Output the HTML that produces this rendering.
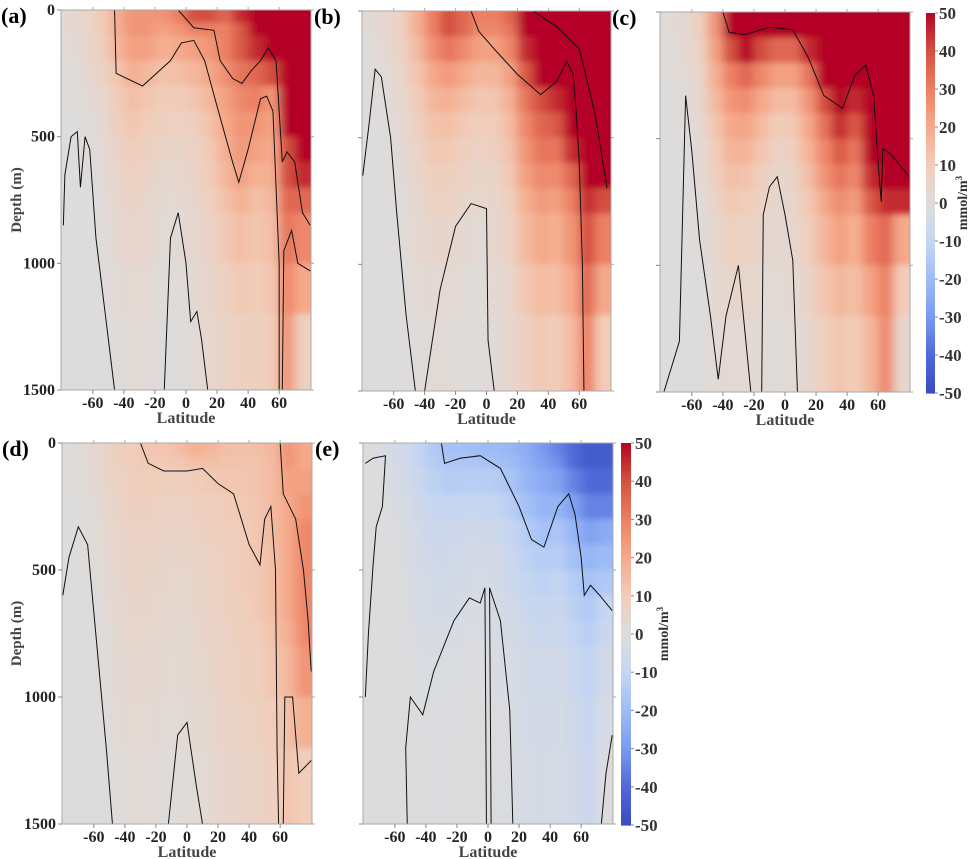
<!DOCTYPE html>
<html><head><meta charset="utf-8">
<style>
html,body{margin:0;padding:0;background:#fff;}
svg{display:block;font-family:"Liberation Serif",serif;}
svg text{font-family:"Liberation Serif",serif;}
</style></head>
<body>
<svg id="fig" width="971" height="859" viewBox="0 0 971 859" xmlns="http://www.w3.org/2000/svg" font-family="Liberation Serif, serif">
<defs>
<filter id="soft" x="-10%" y="-10%" width="120%" height="120%"><feGaussianBlur stdDeviation="5 3"/></filter>
</defs>
</svg>
<script>
const latCenters=[-75,-65,-55,-45,-35,-25,-15,-5,5,15,25,35,45,55,65,75];
const depthEdges=[0,50,100,200,300,400,500,600,700,800,1000,1200,1500];
const latTicks=[-60,-40,-20,0,20,40,60];
const depthTicks=[0,500,1000,1500];
const cbTicks=[50,40,30,20,10,0,-10,-20,-30,-40,-50];

const valuesA=[
[3,5,10,18,25,25,25,30,40,40,35,45,55,60,60,60],
[3,5,10,18,25,25,22,25,30,30,30,38,50,55,60,60],
[2,4,8,16,22,22,18,20,22,25,30,38,45,50,60,60],
[1,3,6,12,18,16,13,14,16,20,26,32,35,40,60,60],
[1,2,4,10,14,12,10,10,12,16,22,28,30,25,55,60],
[0,1,3,8,12,10,8,7,9,13,20,25,25,22,50,60],
[0,1,2,6,10,8,6,5,7,11,18,24,22,20,40,55],
[0,0,2,5,8,6,4,4,6,10,16,22,18,18,40,45],
[0,0,1,4,6,5,3,3,5,8,13,18,14,16,35,35],
[0,0,1,3,5,4,2,2,4,6,11,14,12,14,32,28],
[0,0,0,2,3,3,1,1,3,5,8,11,10,12,28,20],
[0,0,0,1,2,2,0,0,2,4,6,8,8,10,25,8]];
const valuesB=[
[2,4,8,18,30,40,35,30,30,35,50,60,60,60,60,60],
[2,4,8,18,30,40,35,28,28,32,50,60,60,60,60,60],
[1,3,7,15,26,32,28,22,22,28,45,55,60,60,60,60],
[1,2,5,12,20,24,20,16,16,22,38,50,55,60,60,60],
[0,1,4,10,16,18,15,12,12,18,32,40,45,60,60,60],
[0,1,3,8,13,14,11,9,10,15,28,35,38,55,60,60],
[0,0,2,6,11,11,9,7,8,13,25,32,32,45,60,60],
[0,0,2,5,9,9,7,5,6,11,22,28,27,35,55,60],
[0,0,1,4,7,7,5,4,5,9,18,24,22,30,45,40],
[0,0,1,3,5,5,3,2,4,7,15,20,18,25,40,30],
[0,0,0,2,3,3,2,1,3,5,11,15,14,20,35,20],
[0,0,0,1,2,2,1,0,2,4,8,11,10,15,30,10]];
const valuesC=[
[2,3,8,25,60,60,60,55,55,60,60,60,60,60,60,60],
[2,3,8,25,55,60,55,50,50,60,60,60,60,60,60,60],
[1,3,7,22,40,50,40,35,35,45,60,60,60,60,60,60],
[1,2,5,18,30,35,28,22,22,32,50,60,55,60,60,60],
[0,1,4,15,25,27,20,15,15,25,40,55,45,60,60,60],
[0,1,3,12,20,21,15,10,11,20,33,45,38,60,60,60],
[0,0,2,10,17,17,12,7,8,17,28,38,32,55,60,60],
[0,0,2,8,14,13,9,5,6,14,25,32,28,45,60,60],
[0,0,1,6,11,10,7,4,5,11,20,27,23,38,45,45],
[0,0,1,4,8,7,5,3,4,9,16,22,18,30,35,20],
[0,0,0,3,5,5,3,2,3,6,12,16,14,22,30,10],
[0,0,0,2,3,3,2,1,2,4,9,12,10,16,28,4]];
const valuesD=[
[1,2,5,8,10,12,12,14,18,16,14,14,14,16,25,20],
[1,2,5,8,10,11,11,12,14,14,13,13,13,15,25,20],
[1,2,4,7,9,10,9,9,10,11,12,12,13,15,22,22],
[0,1,3,6,8,8,7,7,8,9,10,11,12,15,20,25],
[0,1,3,5,7,7,6,6,7,8,9,10,12,15,20,28],
[0,1,2,5,6,6,5,5,6,7,9,10,12,14,20,28],
[0,0,2,4,6,5,5,4,5,7,8,10,11,14,20,28],
[0,0,1,4,5,5,4,4,5,6,8,9,11,14,20,28],
[0,0,1,3,5,4,4,3,4,6,7,9,10,13,18,28],
[0,0,1,3,4,4,3,3,4,5,7,8,9,12,16,25],
[0,0,0,2,3,3,2,2,3,4,6,7,8,10,14,18],
[0,0,0,1,2,2,1,1,2,3,5,6,6,8,12,10]];
const valuesE=[
[0,-3,-5,-10,-15,-18,-18,-20,-20,-22,-25,-30,-35,-40,-45,-45],
[0,-3,-5,-10,-14,-16,-16,-17,-18,-20,-24,-28,-32,-40,-45,-45],
[0,-2,-4,-8,-12,-14,-13,-13,-14,-17,-22,-25,-28,-35,-40,-40],
[0,-1,-3,-6,-9,-10,-9,-9,-10,-13,-18,-22,-22,-28,-35,-35],
[0,-1,-2,-5,-7,-7,-6,-6,-7,-10,-14,-18,-16,-22,-28,-25],
[0,0,-2,-4,-6,-6,-5,-4,-5,-8,-12,-14,-13,-18,-22,-20],
[0,0,-1,-3,-5,-5,-4,-3,-4,-7,-10,-12,-10,-14,-18,-15],
[0,0,-1,-3,-4,-4,-3,-2,-3,-5,-8,-10,-8,-12,-15,-10],
[0,0,-1,-2,-3,-3,-2,-2,-3,-4,-6,-8,-7,-10,-13,-8],
[0,0,0,-2,-2,-2,-1,-1,-2,-3,-5,-6,-5,-8,-11,-5],
[0,0,0,-1,-1,-1,-1,0,-1,-2,-4,-5,-4,-6,-9,-3],
[0,0,0,0,-1,-1,0,0,-1,-2,-3,-4,-3,-5,-8,-1]];

const contoursA=[
[[-46,0],[-45,250],[-28,300],[-10,200],[-3,130],[5,120],[12,200],[20,380],[30,600],[34,680],[40,550],[48,350],[52,340],[56,400],[58,700],[60,1000],[60,1500]],
[[-79,850],[-78,650],[-74,500],[-70,480],[-68,700],[-65,500],[-62,550],[-58,900],[-52,1200],[-46,1500]],
[[-14,1500],[-10,900],[-5,800],[0,1000],[3,1230],[7,1190],[10,1300],[14,1500]],
[[-5,0],[5,70],[18,80],[22,200],[30,270],[36,290],[42,240],[48,200],[53,150],[58,200],[60,400],[62,600],[65,560],[70,600],[75,800],[80,850]],
[[62,1500],[63,950],[68,870],[72,1000],[80,1030]]];
const contoursB=[
[[-10,0],[-5,80],[5,150],[20,250],[35,330],[45,280],[52,200],[56,250],[58,400],[60,600],[62,1000],[63,1500]],
[[-80,650],[-76,450],[-72,230],[-68,260],[-62,500],[-58,800],[-52,1200],[-46,1500]],
[[-40,1500],[-30,1100],[-20,850],[-10,760],[0,780],[1,1300],[5,1500]],
[[30,0],[45,60],[60,150],[70,400],[78,700]]];
const contoursC=[
[[-40,0],[-36,80],[-26,90],[-10,60],[5,70],[15,180],[25,330],[37,380],[45,250],[52,210],[57,330],[60,600],[62,750],[63,540],[68,560],[80,650]],
[[-78,1500],[-68,1300],[-64,330],[-60,550],[-55,900],[-48,1200],[-43,1450],[-38,1200],[-30,1000],[-22,1500]],
[[-15,1500],[-14,800],[-10,690],[-5,650],[0,800],[5,980],[8,1500]]];
const contoursD=[
[[-30,0],[-25,80],[-15,110],[0,110],[10,100],[20,160],[30,200],[40,400],[47,480],[50,300],[54,250],[57,500],[58,1200],[59,1500]],
[[-80,600],[-76,450],[-70,330],[-64,400],[-58,800],[-52,1200],[-48,1500]],
[[-12,1500],[-6,1150],[0,1100],[6,1350],[10,1500]],
[[62,1500],[63,1000],[68,1000],[72,1300],[80,1250]],
[[60,0],[62,200],[70,300],[75,500],[78,700],[80,900]]];
const contoursE=[
[[-30,0],[-28,80],[-18,60],[-5,50],[8,100],[20,250],[28,380],[36,410],[45,250],[52,200],[56,280],[60,450],[62,600],[66,560],[72,600],[80,660]],
[[-79,1000],[-77,750],[-74,480],[-72,330],[-68,250],[-66,50],[-74,60],[-79,80]],
[[-52,1500],[-53,1200],[-50,1000],[-42,1070],[-35,900],[-22,700],[-12,610],[-5,630],[-2,570],[-1,1500]],
[[2,1500],[1,570],[8,700],[14,1050],[16,1500]],
[[73,1500],[76,1300],[80,1150]]];

const NS="http://www.w3.org/2000/svg";
const FONT='"Liberation Serif", serif';
const svg=document.getElementById('fig');
function mk(tag,attrs,parent){const e=document.createElementNS(NS,tag);for(const k in attrs)e.setAttribute(k,attrs[k]);if(tag==='text')e.setAttribute('font-family',FONT);(parent||svg).appendChild(e);return e;}

const stops=[[-50,[58,76,192]],[-40,[80,105,215]],[-30,[122,154,240]],[-20,[157,188,247]],[-10,[197,214,242]],[0,[221,220,220]],[10,[241,205,185]],[20,[245,169,138]],[30,[236,128,100]],[40,[212,80,64]],[50,[180,4,38]]];
function color(v){
  v=Math.max(-50,Math.min(50,v));
  for(let i=0;i<stops.length-1;i++){const a=stops[i],b=stops[i+1];
    if(v<=b[0]){const t=(v-a[0])/(b[0]-a[0]);const c=a[1].map((x,j)=>Math.round(x+(b[1][j]-x)*t));return `rgb(${c[0]},${c[1]},${c[2]})`;}}
  return 'rgb(180,4,38)';
}

function panel(id,x0,x1,y0,y1,values,contours,label,showY){
  const g=mk('g',{});
  
  
  const X=lat=>x0+(lat+80.5)/161*(x1-x0);
  const Y=d=>y0+d/1500*(y1-y0);
  const clip=mk('clipPath',{id:'clip'+id},svg.querySelector('defs'));
  mk('rect',{x:x0,y:y0,width:x1-x0,height:y1-y0},clip);
  const cg=mk('g',{'clip-path':'url(#clip'+id+')'},g);
  const hg=mk('g',{filter:'url(#soft)'},cg);
  
  
  values.forEach((row,ri)=>{
    row.forEach((v,ci)=>{
      let la=latCenters[ci]-5,lb=latCenters[ci]+5;
      if(ci===0)la-=15; if(ci===row.length-1)lb+=15;
      let ya=Y(depthEdges[ri]),yb=Y(depthEdges[ri+1]);
      if(ri===0)ya-=20; if(ri===values.length-1)yb+=20;
      const r=mk('rect',{x:X(la),y:ya,width:X(lb)-X(la)+0.5,height:yb-ya+0.5,fill:color(v)},hg);
      
      
    });
  });
  contours.forEach(c=>{
    const p=mk('polyline',{points:c.map(q=>X(q[0])+','+Y(q[1])).join(' '),fill:'none',stroke:'#111','stroke-width':1},cg);
    
    
  });
  mk('rect',{x:x0,y:y0,width:x1-x0,height:y1-y0,fill:'none',stroke:'#aaa','stroke-width':1},g);
  latTicks.forEach(t=>{
    mk('line',{x1:X(t),x2:X(t),y1:y1,y2:y1+4,stroke:'#888'},g);
    mk('line',{x1:X(t),x2:X(t),y1:y0,y2:y0-3,stroke:'#aaa'},g);
    const tx=mk('text',{x:X(t),y:y1+18,'text-anchor':'middle','font-size':16,'font-weight':'bold',fill:'#222'},g);
    tx.textContent=t;
    
    
  });
  depthTicks.forEach(t=>{
    mk('line',{x1:x0-4,x2:x0,y1:Y(t),y2:Y(t),stroke:'#888'},g);
    mk('line',{x1:x1,x2:x1+3,y1:Y(t),y2:Y(t),stroke:'#aaa'},g);
    if(showY){
      const tx=mk('text',{x:x0-6,y:Y(t)+5,'text-anchor':'end','font-size':16,'font-weight':'bold',fill:'#222'},g);
      tx.textContent=t;
      
      
    }
  });
  const xl=mk('text',{x:(x0+x1)/2,y:y1+33,'text-anchor':'middle','font-size':16,'font-weight':'bold',fill:'#444'},g);
  xl.textContent='Latitude';
  
  
  if(showY){
    const yl=mk('text',{x:0,y:0,transform:`translate(21,${(y0+y1)/2}) rotate(-90)`,'text-anchor':'middle','font-size':15,'font-weight':'bold',fill:'#444'},g);
    yl.textContent='Depth (m)';
    
    
  }
  const pl=mk('text',{x:x0-60+(showY?0:12),y:y0+13,'font-size':22,'font-weight':'bold',fill:'#000'},g);
  pl.textContent=label;
  
  
}

function colorbar(id,x0,x1,y0,y1,tx){
  const g=mk('g',{});
  
  
  const n=100;
  for(let i=0;i<n;i++){
    const v=50-100*(i+0.5)/n;
    mk('rect',{x:x0,y:y0+(y1-y0)*i/n,width:x1-x0,height:(y1-y0)/n+0.6,fill:color(v)},g);
  }
  cbTicks.forEach(t=>{
    const y=y0+(50-t)/100*(y1-y0);
    mk('line',{x1:x1,x2:x1+3,y1:y,y2:y,stroke:'#888'},g);
    const e=mk('text',{x:x1+4,y:y+6,'font-size':17,'font-weight':'bold',fill:'#333'},g);
    e.textContent=t;
    
    
  });
  const u=mk('text',{x:0,y:0,transform:`translate(${tx},${(y0+y1)/2}) rotate(-90)`,'text-anchor':'middle','font-size':14,'font-weight':'bold',fill:'#333'},g);
  u.innerHTML='mmol/m<tspan dy="-5" font-size="9">3</tspan>';
  
  
}

panel('a',61,311,10,390,valuesA,contoursA,'(a)',true);
panel('b',362,611,11,391,valuesB,contoursB,'(b)',false);
panel('c',660,910,12,392,valuesC,contoursC,'(c)',false);
panel('d',62,312,443,824,valuesD,contoursD,'(d)',true);
panel('e',363,613,443,824,valuesE,contoursE,'(e)',false);
colorbar('top',926,935,13,393,967);
colorbar('bottom',621,631,443,825,668);
</script>
</body></html>
